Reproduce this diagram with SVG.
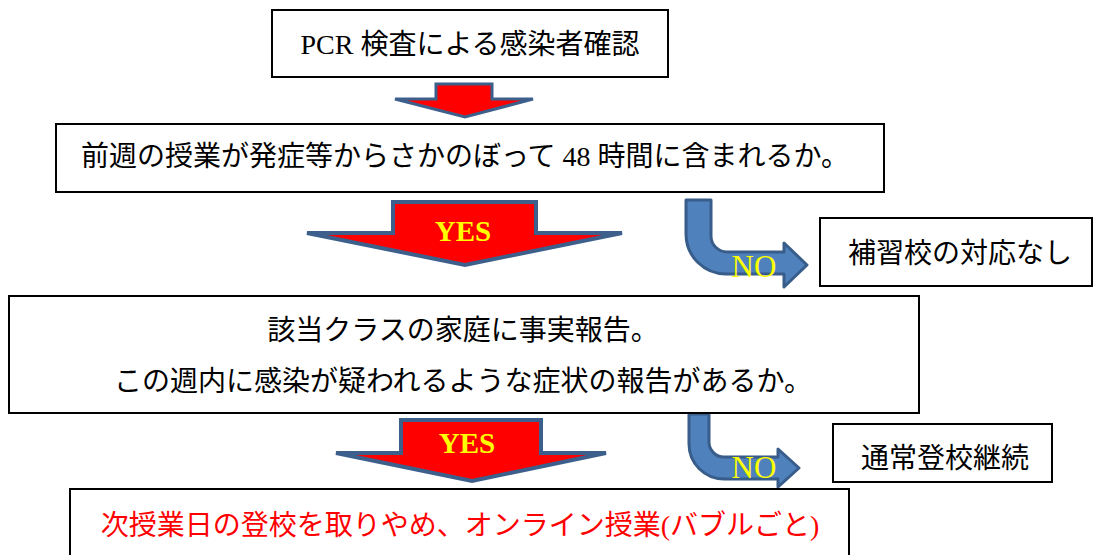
<svg xmlns="http://www.w3.org/2000/svg" width="1099" height="555" viewBox="0 0 1099 555">
<style>
.box{fill:#fff;stroke:#000;stroke-width:2}
.jt{font-family:"Liberation Serif","Noto Sans CJK JP",serif;font-size:28px;fill:#000;text-anchor:middle}
.red{fill:#ff0000}
.down{fill:#ff0000;stroke:#3d5f8c;stroke-width:4;stroke-linejoin:miter}
.bent{fill:#4f81bd;stroke:#385d8a;stroke-width:3;stroke-linejoin:round}
.yes{font-family:"Liberation Serif",serif;font-weight:bold;font-size:29px;fill:#ffff00;text-anchor:middle}
.no{font-family:"Liberation Serif",serif;font-size:31px;fill:#ffff00;text-anchor:middle}
</style>
<rect width="1099" height="555" fill="#fff"/>
<g id="connectors">
  <polygon class="down" style="stroke-width:3" points="436,84 492,84 492,99 533,99 465,117 395,99 436,99"/>
  <polygon class="down" points="393,202 536,202 536,233 622,233 465,265 307,233 393,233"/>
  <text class="yes" x="463" y="241">YES</text>
  <polygon class="down" points="401,420 541,420 541,453 606,453 472,481 336,453 401,453"/>
  <text class="yes" x="467" y="453">YES</text>
  <path class="bent" d="M686,200 L711,200 L711,236 A16,16 0 0 0 727,252 L784,252 L784,243 L807,265 L784,287 L784,274 L726,274 A40,40 0 0 1 686,234 Z"/>
  <text class="no" x="754" y="277">NO</text>
  <path class="bent" d="M689,414 L709,414 L709,442 A15,15 0 0 0 724,457 L778,457 L778,449 L799,468 L778,487 L778,479 L724,479 A35,35 0 0 1 689,444 Z"/>
  <text class="no" x="754" y="478">NO</text>
</g>
<g id="node-pcr">
  <rect class="box" x="272" y="10" width="396" height="67"/>
  <text class="jt" x="470" y="54">PCR 検査による感染者確認</text>
</g>
<g id="node-48h">
  <rect class="box" x="56" y="124" width="828" height="68"/>
  <text class="jt" x="465" y="166">前週の授業が発症等からさかのぼって 48 時間に含まれるか。</text>
</g>
<g id="node-none">
  <rect class="box" x="820" y="218" width="272" height="68"/>
  <text class="jt" x="960" y="263">補習校の対応なし</text>
</g>
<g id="node-report">
  <rect class="box" x="9" y="296" width="910" height="117"/>
  <text class="jt" x="463" y="340">該当クラスの家庭に事実報告。</text>
  <text class="jt" x="463" y="391">この週内に感染が疑われるような症状の報告があるか。</text>
</g>
<g id="node-normal">
  <rect class="box" x="833" y="424" width="219" height="58"/>
  <text class="jt" x="945" y="468">通常登校継続</text>
</g>
<g id="node-online">
  <rect class="box" x="70" y="489" width="779" height="80"/>
  <text class="jt red" x="460" y="535">次授業日の登校を取りやめ、オンライン授業(バブルごと)</text>
</g>
</svg>
